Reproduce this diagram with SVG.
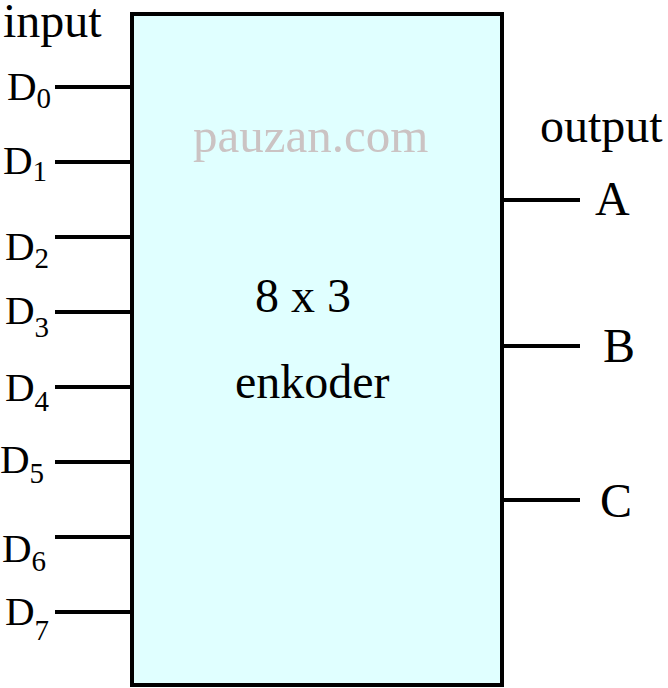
<svg xmlns="http://www.w3.org/2000/svg" width="668" height="688" viewBox="0 0 668 688">
<style>
text{font-family:"Liberation Serif","Times New Roman",serif;fill:#000}
.big{font-size:48px}
.d{font-size:41px}
.s{font-size:29px}
.wm{font-size:49px;fill:#cbc3c3}
.w{stroke:#000;stroke-width:4;fill:none}
</style>
<rect width="668" height="688" fill="#fff"/>
<g id="encoder">
<rect x="132" y="14" width="370" height="671" fill="#e0ffff" stroke="#000" stroke-width="4"/>
<text class="wm" x="193" y="152">pauzan.com</text>
<text class="big" x="255" y="312">8 x 3</text>
<text class="big" x="235" y="398">enkoder</text>
</g>
<g id="connectors">
<line class="w" x1="55" y1="87" x2="132" y2="87"/>
<line class="w" x1="55" y1="162" x2="132" y2="162"/>
<line class="w" x1="55" y1="237" x2="132" y2="237"/>
<line class="w" x1="55" y1="312" x2="132" y2="312"/>
<line class="w" x1="55" y1="387" x2="132" y2="387"/>
<line class="w" x1="55" y1="462" x2="132" y2="462"/>
<line class="w" x1="55" y1="537" x2="132" y2="537"/>
<line class="w" x1="55" y1="612" x2="132" y2="612"/>
<line class="w" x1="502" y1="200" x2="580" y2="200"/>
<line class="w" x1="502" y1="346" x2="580" y2="346"/>
<line class="w" x1="502" y1="500" x2="580" y2="500"/>
</g>
<g id="labels-in">
<text class="big" x="3" y="37">input</text>
<text class="d" x="7" y="100">D<tspan class="s" y="108">0</tspan></text>
<text class="d" x="3" y="174">D<tspan class="s" y="181">1</tspan></text>
<text class="d" x="5" y="260">D<tspan class="s" y="268">2</tspan></text>
<text class="d" x="5" y="324">D<tspan class="s" y="337">3</tspan></text>
<text class="d" x="5" y="401">D<tspan class="s" y="411">4</tspan></text>
<text class="d" x="0" y="473">D<tspan class="s" y="483">5</tspan></text>
<text class="d" x="2" y="562">D<tspan class="s" y="571">6</tspan></text>
<text class="d" x="5" y="625">D<tspan class="s" y="640">7</tspan></text>
</g>
<g id="labels-out">
<text class="big" x="540" y="142">output</text>
<text class="big" x="595" y="215">A</text>
<text class="big" x="603" y="362">B</text>
<text class="big" x="600" y="517">C</text>
</g>
</svg>
